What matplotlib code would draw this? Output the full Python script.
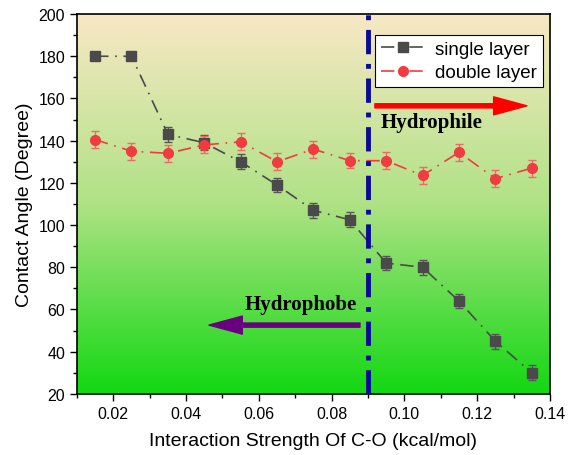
import numpy as np
import matplotlib
matplotlib.use('Agg')
import matplotlib.pyplot as plt
from matplotlib.colors import LinearSegmentedColormap
from matplotlib.lines import Line2D

plt.rc('font', family='Liberation Sans', size=11)

# data
strength = [0.015, 0.025, 0.035, 0.045, 0.055, 0.065, 0.075,
            0.085, 0.095, 0.105, 0.115, 0.125, 0.135]
single = [180, 180, 143, 139, 130, 119, 107, 102.5, 82, 80, 64, 45, 30]
single_err = [0, 0, 3.5, 3.5, 3.5, 3.5, 3.5, 3.5, 3.5, 3.5, 3.5, 3.5, 3.5]
double = [140.5, 135, 134, 138, 139.5, 130, 136, 130.5, 130.5, 123.5, 134.5, 122, 127]
double_err = [4, 4, 4, 4, 4, 4, 4, 3.5, 4, 4, 4, 4, 4]

fig = plt.figure()
fig.set_size_inches(5.74, 4.56)
ax = fig.add_axes([0.134, 0.134, 0.824, 0.833])

# background gradient
cmap = LinearSegmentedColormap.from_list(
    'bg', [(0, '#12d812'), (0.5, '#afe285'), (1, '#f8e8c5')])
grad = np.linspace(0, 1, 256).reshape(-1, 1)
ax.imshow(grad, cmap=cmap, origin='lower', aspect='auto',
          extent=[0.01, 0.14, 20, 200], zorder=0)

dashdot = (0, (8, 4, 1, 4))
ax.errorbar(strength, single, yerr=single_err, color='#4a4a4a', marker='s',
            ms=7, ls=dashdot, lw=1.2, capsize=3, elinewidth=1,
            ecolor='#555555', zorder=3)
ax.errorbar(strength, double, yerr=double_err, color='#f03c40', marker='o',
            ms=7, ls=dashdot, lw=1.2, capsize=3, elinewidth=1,
            ecolor='#f06868', zorder=3)

ax.axvline(0.09, color='#0a0a96', lw=3.5, ls=(0, (5, 2, 1, 2)), zorder=4)

ax.annotate('', xy=(0.1337, 156.5), xytext=(0.0919, 156.5),
            arrowprops=dict(color='#ff0000', width=3, headwidth=13,
                            headlength=24, shrink=0), zorder=5)
ax.text(0.0935, 149, 'Hydrophile', family='Liberation Serif',
        fontweight='bold', fontsize=15, va='center', ha='left', zorder=5)
ax.annotate('', xy=(0.0463, 52.6), xytext=(0.0878, 52.6),
            arrowprops=dict(color='#6a0080', width=3, headwidth=13,
                            headlength=24, shrink=0), zorder=5)
ax.text(0.0562, 62.5, 'Hydrophobe', family='Liberation Serif',
        fontweight='bold', fontsize=15, va='center', ha='left', zorder=5)

ax.set_xlim(0.01, 0.14)
ax.set_ylim(20, 200)
ax.set_xticks(np.arange(0.02, 0.141, 0.02))
ax.set_xticks(np.arange(0.01, 0.141, 0.01), minor=True)
ax.set_yticks(np.arange(20, 201, 20))
ax.set_yticks(np.arange(30, 200, 20), minor=True)
ax.set_xticklabels(['%.2f' % v for v in np.arange(0.02, 0.141, 0.02)])
ax.tick_params(direction='out', length=5, width=1, labelsize=11.5)
ax.tick_params(which='minor', direction='out', length=3, width=1)
for s in ax.spines.values():
    s.set_linewidth(1.2)

ax.set_xlabel('Interaction Strength Of C-O (kcal/mol)', fontsize=14, labelpad=8)
ax.set_ylabel('Contact Angle (Degree)', fontsize=14)

handles = [Line2D([], [], color='#4a4a4a', marker='s', ms=7, ls=dashdot, lw=1.2),
           Line2D([], [], color='#f03c40', marker='o', ms=7, ls=dashdot, lw=1.2)]
leg = ax.legend(handles, ['single layer', 'double layer'], loc='upper right',
                bbox_to_anchor=(0.985, 0.945), fontsize=13.5,
                fancybox=False, framealpha=1, edgecolor='black',
                handlelength=2.4, handletextpad=0.5, borderpad=0.3,
                labelspacing=0.35, borderaxespad=0)
leg.get_frame().set_linewidth(0.8)

plt.savefig('out.png', dpi=100)
